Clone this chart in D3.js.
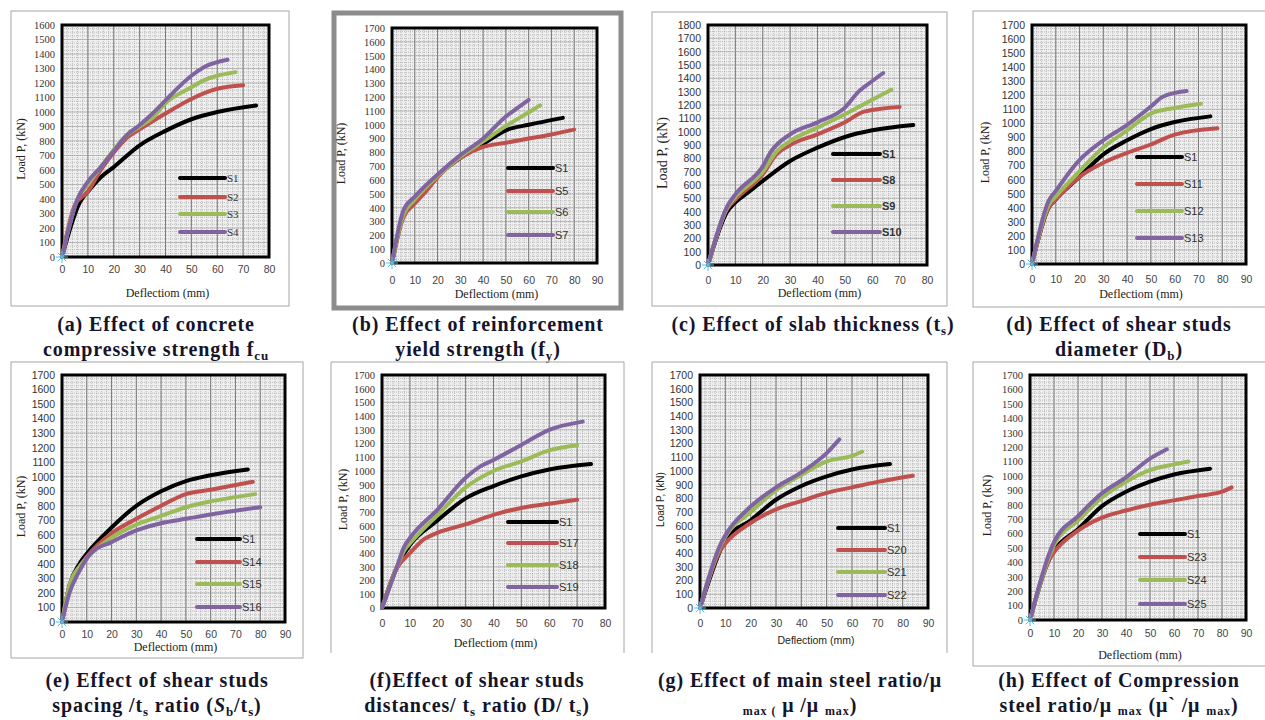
<!DOCTYPE html>
<html>
<head>
<meta charset="utf-8">
<script src="https://cdn.jsdelivr.net/npm/d3@7"></script>
<style>
  body { margin: 0; background: #fff; }
  svg { display: block; }
</style>
</head>
<body>
<div id="chart"></div>
<script>
// series as [deflection mm, load kN]
const a_S1 = [[0,0],[7,380],[10,450],[15,550],[20,620],[30,770],[40,870],[50,950],[60,1000],[75,1045]];
const a_S2 = [[0,0],[5,360],[10,450],[15,600],[20,720],[25,820],[30,880],[40,990],[50,1090],[55,1130],[60,1160],[70,1185]];
const a_S3 = [[0,0],[6,400],[10,500],[15,620],[20,740],[25,840],[30,900],[35,960],[40,1060],[50,1170],[55,1220],[60,1250],[67,1275]];
const a_S4 = [[0,0],[6,400],[10,520],[15,620],[20,730],[25,840],[30,910],[35,990],[40,1080],[45,1170],[50,1250],[55,1310],[64,1360]];

const b_S1 = [[0,0],[5,350],[10,450],[15,540],[20,630],[30,760],[40,860],[50,960],[60,1000],[75,1050]];
const b_S5 = [[0,0],[5,330],[10,430],[15,520],[20,620],[30,760],[40,840],[50,870],[60,900],[70,930],[80,965]];
const b_S6 = [[0,0],[5,350],[10,460],[20,630],[30,770],[40,880],[50,990],[60,1090],[65,1140]];
const b_S7 = [[0,0],[5,380],[10,480],[20,640],[30,780],[40,900],[50,1060],[55,1120],[60,1180]];

const c_S1 = [[0,0],[7,400],[10,470],[15,550],[20,630],[30,780],[40,880],[50,960],[60,1010],[75,1050]];
const c_S8 = [[0,0],[7,420],[10,490],[20,680],[25,830],[30,900],[40,980],[50,1070],[57,1150],[70,1185]];
const c_S9 = [[0,0],[7,430],[10,510],[20,700],[25,850],[30,930],[40,1030],[50,1130],[60,1240],[67,1315]];
const c_S10 = [[0,0],[7,440],[10,530],[20,740],[23,850],[30,980],[40,1070],[50,1180],[55,1300],[60,1380],[64,1440]];

const d_S1 = [[0,0],[7,400],[10,460],[20,620],[30,780],[40,880],[50,960],[60,1010],[75,1050]];
const d_S11 = [[0,0],[7,400],[10,460],[20,620],[30,720],[40,790],[50,850],[60,920],[78,965]];
const d_S12 = [[0,0],[7,420],[10,480],[20,660],[30,830],[40,950],[50,1070],[60,1110],[71,1140]];
const d_S13 = [[0,0],[7,450],[10,520],[20,740],[30,880],[40,990],[50,1120],[55,1190],[65,1230]];

const e_S1 = [[0,0],[3,250],[7,400],[10,470],[20,650],[30,800],[40,900],[50,970],[60,1010],[75,1050]];
const e_S14 = [[0,0],[3,250],[7,380],[10,450],[20,610],[30,710],[40,800],[50,880],[60,910],[77,965]];
const e_S15 = [[0,0],[3,250],[7,380],[10,440],[20,580],[30,670],[40,730],[50,790],[60,830],[78,880]];
const e_S16 = [[0,0],[3,200],[7,350],[12,480],[20,550],[30,630],[40,680],[50,710],[60,740],[80,790]];

const f_S1 = [[0,0],[5,280],[8,400],[10,460],[20,640],[30,800],[40,890],[50,960],[60,1010],[75,1050]];
const f_S17 = [[0,0],[5,280],[10,400],[15,500],[20,550],[30,610],[40,680],[50,730],[60,760],[70,790]];
const f_S18 = [[0,0],[5,280],[8,420],[10,470],[20,680],[30,880],[40,1000],[50,1070],[60,1150],[70,1185]];
const f_S19 = [[0,0],[5,280],[8,450],[10,510],[20,720],[30,950],[35,1030],[40,1080],[50,1190],[60,1300],[72,1360]];

const g_S1 = [[0,0],[8,420],[10,500],[20,640],[30,790],[40,890],[50,960],[60,1010],[75,1050]];
const g_S20 = [[0,0],[8,420],[10,470],[20,620],[30,720],[40,780],[50,840],[60,880],[70,920],[84,965]];
const g_S21 = [[0,0],[8,450],[10,520],[20,700],[30,860],[40,970],[50,1070],[60,1110],[64,1140]];
const g_S22 = [[0,0],[8,460],[10,530],[20,740],[30,880],[40,990],[50,1130],[55,1230]];

const h_S1 = [[0,0],[8,420],[10,480],[20,630],[30,790],[40,890],[50,960],[60,1010],[75,1050]];
const h_S23 = [[0,0],[8,420],[10,470],[20,620],[30,710],[40,760],[50,800],[60,830],[70,860],[80,890],[84,920]];
const h_S24 = [[0,0],[8,440],[10,520],[20,690],[30,850],[40,960],[50,1040],[60,1080],[66,1100]];
const h_S25 = [[0,0],[8,460],[10,540],[20,720],[30,880],[40,990],[50,1120],[57,1185]];

const seriesColors = ["#000000", "#c0504d", "#9bbb59", "#8064a2"];

// panel layout in page pixels
const panels = [
  { names: ["S1","S2","S3","S4"], data: [a_S1,a_S2,a_S3,a_S4], xMax: 80, yMax: 1600,
    frame: [11,11,289,306], plot: [62,25,269,257], leg: [180,225,[178,197,214,232]],
    xlab: 269, xtitle: 293, ytitleX: 25, star: true, font: "Liberation Serif", legFont: "Liberation Serif", legBold: false,
    cap: ["(a) Effect of concrete", "compressive strength f<sub>cu</sub>"], capX: 156 },
  { names: ["S1","S5","S6","S7"], data: [b_S1,b_S5,b_S6,b_S7], xMax: 90, yMax: 1700,
    frame: [334,13,621,308], plot: [392,28,597,263], leg: [508,553,[168,191,212,235]],
    xlab: 280, xtitle: 294, ytitleX: 345, star: true, font: "Liberation Serif", legFont: "Liberation Sans", legBold: false, thick: true,
    cap: ["(b) Effect of reinforcement", "yield strength (f<sub>y</sub>)"], capX: 478 },
  { names: ["S1","S8","S9","S10"], data: [c_S1,c_S8,c_S9,c_S10], xMax: 80, yMax: 1800,
    frame: [652,12,947,306], plot: [708,25,927,265], leg: [833,880,[154,180,206,232]],
    xlab: 280, xtitle: 293, ytitleX: 667, star: true, font: "Liberation Sans", legFont: "Liberation Sans", legBold: true,
    cap: ["(c) Effect of slab thickness (t<sub>s</sub>)"], capX: 813 },
  { names: ["S1","S11","S12","S13"], data: [d_S1,d_S11,d_S12,d_S13], xMax: 90, yMax: 1700,
    frame: [973,11,1268,307], plot: [1032,25,1246,264], leg: [1137,1182,[157,184,211,238]],
    xlab: 279, xtitle: 294, ytitleX: 989, star: true, font: "Liberation Sans", legFont: "Liberation Sans", legBold: false,
    cap: ["(d) Effect of shear studs", "diameter (D<sub>b</sub>)"], capX: 1119 },
  { names: ["S1","S14","S15","S16"], data: [e_S1,e_S14,e_S15,e_S16], xMax: 90, yMax: 1700,
    frame: [11,362,303,658], plot: [62,375,285,622], leg: [197,240,[539,562,584,607]],
    xlab: 634, xtitle: 647, ytitleX: 25, star: true, font: "Liberation Sans", legFont: "Liberation Sans", legBold: false,
    cap: ["(e) Effect of shear studs", "spacing /t<sub>s</sub> ratio (<i>S</i><sub>b</sub>/t<sub>s</sub>)"], capX: 157 },
  { names: ["S1","S17","S18","S19"], data: [f_S1,f_S17,f_S18,f_S19], xMax: 80, yMax: 1700,
    frame: [331,362,624,653], plot: [382,375,605,608], leg: [508,557,[522,543,565,587]],
    xlab: 623, xtitle: 643, ytitleX: 347, star: false, font: "Liberation Serif", legFont: "Liberation Sans", legBold: false, open: true,
    cap: ["(f)Effect of shear studs", "distances/ t<sub>s</sub> ratio (D/ t<sub>s</sub>)"], capX: 477 },
  { names: ["S1","S20","S21","S22"], data: [g_S1,g_S20,g_S21,g_S22], xMax: 90, yMax: 1700,
    frame: [652,362,947,653], plot: [700,375,928,608], leg: [838,885,[528,550,572,595]],
    xlab: 623, xtitle: 640, ytitleX: 664, star: true, font: "Liberation Sans", legFont: "Liberation Sans", legBold: false, open: true,
    cap: ["(g) Effect of main steel ratio/μ", "<small>max (</small> μ /μ <small>max</small>)"], capX: 800 },
  { names: ["S1","S23","S24","S25"], data: [h_S1,h_S23,h_S24,h_S25], xMax: 90, yMax: 1700,
    frame: [973,362,1268,666], plot: [1030,375,1246,620], leg: [1140,1185,[534,557,580,604]],
    xlab: 633, xtitle: 655, ytitleX: 991, star: true, font: "Liberation Serif", legFont: "Liberation Sans", legBold: false,
    cap: ["(h) Effect of Compression", "steel ratio/μ <small>max</small>  (μ` /μ <small>max</small>)"], capX: 1119 }
];

const W = 1265, H = 720;
const svg = d3.select("#chart").append("svg").attr("width", W).attr("height", H);

panels.forEach((p, pi) => {
  const [fx0, fy0, fx1, fy1] = p.frame;
  const [px0, py0, px1, py1] = p.plot;

  // outer frame
  if (p.open) {
    svg.append("path")
      .attr("d", `M${fx0},${fy1}V${fy0}H${fx1}V${fy1}`)
      .attr("fill", "none").attr("stroke", "#a6a6a6").attr("stroke-width", 1);
  } else {
    svg.append("rect")
      .attr("x", fx0).attr("y", fy0)
      .attr("width", fx1 - fx0).attr("height", fy1 - fy0)
      .attr("fill", "none")
      .attr("stroke", p.thick ? "#8c8c8c" : "#a6a6a6")
      .attr("stroke-width", p.thick ? 5 : 1);
  }

  const x = d3.scaleLinear().domain([0, p.xMax]).range([px0, px1]);
  const y = d3.scaleLinear().domain([0, p.yMax]).range([py1, py0]);

  const g = svg.append("g");
  g.append("rect").attr("x", px0).attr("y", py0)
    .attr("width", px1 - px0).attr("height", py1 - py0).attr("fill", "#efefef");

  // minor dotted grid
  g.append("g").selectAll("line").data(d3.range(0, p.xMax + 0.01, 2))
    .join("line")
    .attr("x1", d => x(d)).attr("x2", d => x(d)).attr("y1", py0).attr("y2", py1)
    .attr("stroke", "#9a9a9a").attr("stroke-width", 0.6).attr("stroke-dasharray", "1,1");
  g.append("g").selectAll("line").data(d3.range(0, p.yMax + 0.01, 25))
    .join("line")
    .attr("x1", px0).attr("x2", px1).attr("y1", d => y(d)).attr("y2", d => y(d))
    .attr("stroke", "#9a9a9a").attr("stroke-width", 0.6).attr("stroke-dasharray", "1,1");
  // major grid
  g.append("g").selectAll("line").data(d3.range(10, p.xMax, 10))
    .join("line")
    .attr("x1", d => x(d)).attr("x2", d => x(d)).attr("y1", py0).attr("y2", py1)
    .attr("stroke", "#7a7a7a").attr("stroke-width", 1);
  g.append("g").selectAll("line").data(d3.range(100, p.yMax, 100))
    .join("line")
    .attr("x1", px0).attr("x2", px1).attr("y1", d => y(d)).attr("y2", d => y(d))
    .attr("stroke", "#a0a0a0").attr("stroke-width", 0.6);

  // thick plot border
  g.append("rect").attr("x", px0).attr("y", py0)
    .attr("width", px1 - px0).attr("height", py1 - py0)
    .attr("fill", "none").attr("stroke", "#000").attr("stroke-width", 3);

  // y axis ticks
  const yAxis = d3.axisLeft(y).tickValues(d3.range(0, p.yMax + 1, 100))
    .tickFormat(d3.format("d")).tickSize(0).tickPadding(7);
  const ya = svg.append("g").attr("transform", `translate(${px0},0)`).call(yAxis);
  ya.select(".domain").remove();
  ya.selectAll("text").attr("font-family", p.font).attr("font-size", 10.5).attr("fill", "#333");

  const xAxis = d3.axisBottom(x).tickValues(d3.range(0, p.xMax + 1, 10))
    .tickFormat(d3.format("d")).tickSize(0);
  const xa = svg.append("g").attr("transform", `translate(0,${p.xlab - 6})`).call(xAxis);
  xa.select(".domain").remove();
  xa.selectAll("text").attr("font-family", "Liberation Sans").attr("font-size", 10.5).attr("fill", "#444");

  // axis titles
  svg.append("text")
    .attr("x", (px0 + px1) / 2 + 2).attr("y", p.xtitle + 4)
    .attr("text-anchor", "middle")
    .attr("font-family", pi === 6 ? "Liberation Sans" : "Liberation Serif")
    .attr("font-size", pi === 6 ? 10.5 : 12).attr("fill", "#222")
    .text("Deflectiom (mm)");
  svg.append("text")
    .attr("transform", `translate(${p.ytitleX},${(py0 + py1) / 2 + 8}) rotate(-90)`)
    .attr("text-anchor", "middle")
    .attr("font-family", pi === 6 ? "Liberation Sans" : "Liberation Serif")
    .attr("font-size", pi === 6 ? 10 : (pi === 2 ? 14 : 12)).attr("fill", "#222")
    .text("Load P, (kN)");

  // curves
  const line = d3.line().x(d => x(d[0])).y(d => y(d[1])).curve(d3.curveMonotoneX);
  p.data.forEach((s, i) => {
    g.append("path").datum(s)
      .attr("d", line)
      .attr("fill", "none")
      .attr("stroke", seriesColors[i])
      .attr("stroke-width", 4)
      .attr("stroke-linecap", "round")
      .attr("stroke-linejoin", "round");
  });

  // origin marker
  if (p.star) {
    const sx = x(0), sy = y(0);
    [0, 45, 90, 135].forEach(a => {
      const r = 6, t = a * Math.PI / 180;
      svg.append("line")
        .attr("x1", sx - r * Math.cos(t)).attr("y1", sy - r * Math.sin(t))
        .attr("x2", sx + r * Math.cos(t)).attr("y2", sy + r * Math.sin(t))
        .attr("stroke", "#5bc0de").attr("stroke-width", 1);
    });
  }

  // legend
  const [lx0, lx1, lys] = p.leg;
  p.names.forEach((n, i) => {
    svg.append("line")
      .attr("x1", lx0).attr("x2", lx1).attr("y1", lys[i]).attr("y2", lys[i])
      .attr("stroke", seriesColors[i]).attr("stroke-width", 4).attr("stroke-linecap", "round");
    svg.append("text")
      .attr("x", lx1 + 2).attr("y", lys[i] + 4)
      .attr("font-family", p.legFont).attr("font-size", 11)
      .attr("font-weight", p.legBold ? "bold" : "normal")
      .attr("fill", "#333")
      .text(n);
  });

  // caption, with a tiny markup for sub / small / italic pieces
  const capTop = pi < 4 ? 331 : 687;
  p.cap.forEach((c, k) => {
    const t = svg.append("text")
      .attr("x", p.capX).attr("y", capTop + k * 25)
      .attr("text-anchor", "middle")
      .attr("font-family", "Liberation Serif").attr("font-weight", "bold")
      .attr("font-size", 20).attr("letter-spacing", 0.9).attr("fill", "#14142b");
    const parts = c.split(/(<sub>.*?<\/sub>|<small>.*?<\/small>|<i>.*?<\/i>)/).filter(s => s.length);
    let shift = 0;
    parts.forEach(s => {
      let txt = s, size = null, want = 0, italic = false;
      if (s.startsWith("<sub>")) { txt = s.slice(5, -6); size = 13; want = 4; }
      else if (s.startsWith("<small>")) { txt = s.slice(7, -8); size = 12; want = 3; }
      else if (s.startsWith("<i>")) { txt = s.slice(3, -4); italic = true; }
      const ts = t.append("tspan").attr("dy", want - shift).text(txt);
      if (size) ts.attr("font-size", size);
      if (italic) ts.attr("font-style", "italic");
      shift = want;
    });
  });
});
</script>
</body>
</html>
